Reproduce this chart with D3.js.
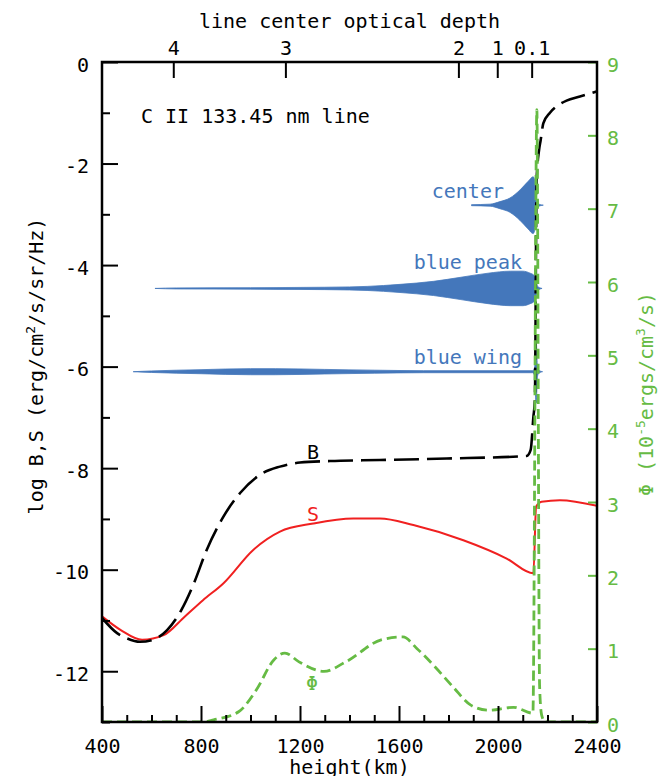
<!DOCTYPE html>
<html><head><meta charset="utf-8">
<script src="https://cdn.jsdelivr.net/npm/d3@7"></script>
<style>
body{margin:0;background:#fff}
text{font-family:"DejaVu Sans Mono",monospace;}
</style>
</head><body>
<svg id="c" width="658" height="776"></svg>
<script>
// ---------- data ----------
const bHeights=[400,461,500,553,606,663,721,772,823,890,958,1038,1119,1200,1321,1523,1793,2116,2132,2143,2149,2156,2166,2172,2183,2210,2244,2277,2331,2398];
const bValues=[-10.95,-11.25,-11.35,-11.42,-11.38,-11.19,-10.79,-10.26,-9.61,-8.96,-8.49,-8.13,-7.97,-7.89,-7.86,-7.84,-7.81,-7.76,-7.64,-6.99,-6.66,-2.32,-1.73,-1.55,-1.21,-1.0,-0.85,-0.76,-0.68,-0.58];

const sHeights=[400,476,562,649,735,808,890,1011,1119,1254,1415,1523,1658,1860,2035,2143,2154,2176,2250,2400];
const sValues=[-10.92,-11.19,-11.38,-11.29,-10.92,-10.6,-10.27,-9.61,-9.25,-9.09,-8.99,-8.99,-9.12,-9.42,-9.78,-10.07,-8.76,-8.66,-8.63,-8.74];

const phiHeights=[400,808,851,952,1024,1095,1139,1196,1297,1385,1528,1616,1673,1746,1818,1890,1962,2063,2141,2157,2168,2176,2190,2400];
const phiValues=[0,0,0.03,0.14,0.44,0.85,0.94,0.82,0.69,0.82,1.12,1.16,1.0,0.75,0.48,0.23,0.16,0.2,0.12,8.35,0.5,0.1,0,0];

// contribution-function profiles: baseline (log units) and half widths
const profileNames=["center","blue peak","blue wing"];
const profileBase=[-2.82,-4.46,-6.10];
const centerHeights=[1893,1968,2008,2048,2089,2122,2142,2148,2152,2158,2165,2183];
const centerWidths=[0.01,0.02,0.07,0.14,0.30,0.47,0.56,0.50,0.12,0.04,0.02,0];
const peakHeights=[614,700,1000,1200,1400,1471,1604,1740,1850,1960,2050,2100,2130,2145,2152,2160,2178];
const peakWidths=[0,0.01,0.014,0.02,0.03,0.04,0.08,0.14,0.22,0.30,0.34,0.34,0.30,0.26,0.2,0.04,0];
const wingHeights=[526,600,800,1000,1100,1300,1500,1700,2140,2148,2154,2160,2165,2180];
const wingWidths=[0,0.015,0.04,0.06,0.06,0.045,0.03,0.02,0.02,0.08,0.62,0.08,0.03,0];

const xMajor=[400,800,1200,1600,2000,2400];
const xMinor=d3.range(500,2400,100).filter(v=>v%400!==0);
const yLeftMajor=[0,-2,-4,-6,-8,-10,-12];
const yLeftMinor=[-1,-3,-5,-7,-9,-11,-13];
const yRightTicks=[0,1,2,3,4,5,6,7,8,9];
const tauLabels=["4","3","2","1","0.1"];
const tauHeights=[688,1141,1840,1997,2136];

// ---------- layout ----------
const L=102,R=597,T=62,B=722;
const BLUE="#4477bb",GREEN="#66bb44",RED="#f02020";
const svg=d3.select("#c");
const x=d3.scaleLinear().domain([400,2400]).range([L,R]);
const yL=d3.scaleLinear().domain([-13,0]).range([B,T]);
const yR=d3.scaleLinear().domain([0,9]).range([B,T]);

svg.append("defs").append("clipPath").attr("id","clip")
  .append("rect").attr("x",L).attr("y",T).attr("width",R-L).attr("height",B-T);
const plot=svg.append("g").attr("clip-path","url(#clip)");

// blue profiles
const profs=[[centerHeights,centerWidths],[peakHeights,peakWidths],[wingHeights,wingWidths]];
profs.forEach((p,k)=>{
  const pts=p[0].map((h,i)=>({h:h,w:p[1][i]}));
  const area=d3.area().x(d=>x(d.h)).y0(d=>yL(profileBase[k]-d.w)).y1(d=>yL(profileBase[k]+d.w)).curve(d3.curveMonotoneX);
  plot.append("path").attr("d",area(pts)).attr("fill",BLUE).attr("stroke",BLUE).attr("stroke-width",0.8);
});

// S
const sLine=d3.line().x((d,i)=>x(sHeights[i])).y(d=>yL(d)).curve(d3.curveMonotoneX);
plot.append("path").attr("d",sLine(sValues)).attr("fill","none").attr("stroke",RED).attr("stroke-width",2);
// B
const bLine=d3.line().x((d,i)=>x(bHeights[i])).y(d=>yL(d)).curve(d3.curveMonotoneX);
plot.append("path").attr("d",bLine(bValues)).attr("fill","none").attr("stroke","#000").attr("stroke-width",2.6).attr("stroke-dasharray","25,8");
// Phi
const pLine=d3.line().x((d,i)=>x(phiHeights[i])).y(d=>yR(d)).curve(d3.curveMonotoneX);
plot.append("path").attr("d",pLine(phiValues)).attr("fill","none").attr("stroke",GREEN).attr("stroke-width",2.8).attr("stroke-dasharray","10,5");

// ---------- axes ----------
const FS=20;
function style(g,color){
  g.select(".domain").remove();
  g.selectAll(".tick line").attr("stroke",color).attr("stroke-width",2);
  g.selectAll(".tick text").attr("fill",color).attr("font-size",FS).attr("font-family","DejaVu Sans Mono, monospace");
}
svg.append("g").attr("transform",`translate(0,${B})`)
  .call(d3.axisBottom(x).tickValues(xMajor).tickSize(-16).tickPadding(17).tickFormat(d=>String(d)))
  .call(g=>style(g,"#000"));
svg.append("g").attr("transform",`translate(0,${B})`)
  .call(d3.axisBottom(x).tickValues(xMinor).tickSize(-7).tickFormat(""))
  .call(g=>style(g,"#000"));
svg.append("g").attr("transform",`translate(0,${T})`)
  .call(d3.axisTop(x).tickValues(tauHeights).tickSize(-16).tickPadding(7).tickFormat((d,i)=>tauLabels[i]))
  .call(g=>style(g,"#000"));
svg.append("g").attr("transform",`translate(${L},0)`)
  .call(d3.axisLeft(yL).tickValues(yLeftMajor).tickSize(-16).tickPadding(13).tickFormat(d=>String(d)))
  .call(g=>{style(g,"#000");g.selectAll(".tick text").attr("dy","0.45em");});
svg.append("g").attr("transform",`translate(${L},0)`)
  .call(d3.axisLeft(yL).tickValues(yLeftMinor).tickSize(-8).tickFormat(""))
  .call(g=>style(g,"#000"));
svg.append("g").attr("transform",`translate(${R},0)`)
  .call(d3.axisRight(yR).tickValues(yRightTicks).tickSize(-9).tickPadding(10).tickFormat(d=>String(d)))
  .call(g=>{style(g,GREEN);g.selectAll(".tick text").attr("dy","0.45em");});

// frame
svg.append("rect").attr("x",L).attr("y",T).attr("width",R-L).attr("height",B-T)
  .attr("fill","none").attr("stroke","#000").attr("stroke-width",2.5);

// ---------- texts ----------
function txt(s,xx,yy,anchor,color){
  return svg.append("text").attr("x",xx).attr("y",yy).attr("text-anchor",anchor||"start")
    .attr("fill",color||"#000").attr("font-size",FS).text(s);
}
txt("line center optical depth",(L+R)/2,28,"middle");
txt("height(km)",(L+R)/2,774,"middle");
txt("C II 133.45 nm line",141,123,"start");
txt(profileNames[0],504,198,"end",BLUE);
txt(profileNames[1],522,269,"end",BLUE);
txt(profileNames[2],522,364,"end",BLUE);
txt("B",313,459,"middle","#000");
txt("S",313,521,"middle",RED);
txt("Φ",312,690,"middle",GREEN);

// left axis label
const ll=svg.append("text").attr("transform","translate(43,366) rotate(-90)")
  .attr("text-anchor","middle").attr("font-size",FS).attr("fill","#000");
ll.append("tspan").text("log B,S (erg/cm");
ll.append("tspan").attr("dy",-8).attr("font-size",13).text("2");
ll.append("tspan").attr("dy",8).text("/s/sr/Hz)");

// right axis label
const rl=svg.append("text").attr("transform","translate(653,394) rotate(-90)")
  .attr("text-anchor","middle").attr("font-size",FS).attr("fill",GREEN);
rl.append("tspan").text("Φ (10");
rl.append("tspan").attr("dy",-8).attr("font-size",13).text("-5");
rl.append("tspan").attr("dy",8).text("ergs/cm");
rl.append("tspan").attr("dy",-8).attr("font-size",13).text("3");
rl.append("tspan").attr("dy",8).text("/s)");
</script>
</body></html>
